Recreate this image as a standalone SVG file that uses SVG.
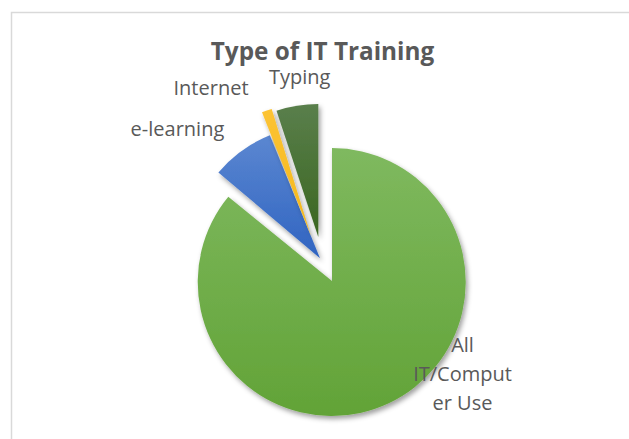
<svg xmlns="http://www.w3.org/2000/svg" width="629" height="439" viewBox="0 0 629 439">
<style>
.lbl{font-family:"Open Sans","Liberation Sans",sans-serif;font-size:20px;fill:#595959}
.title{font-family:"Open Sans","Liberation Sans",sans-serif;font-size:24.3px;font-weight:bold;fill:#595959}
.slice{filter:url(#sh)}
</style>
<defs>
<filter id="sh" x="-20%" y="-20%" width="150%" height="150%">
<feDropShadow dx="2" dy="3" stdDeviation="2.5" flood-color="#000" flood-opacity="0.38"/>
</filter>
<linearGradient id="gGreen" gradientUnits="userSpaceOnUse" x1="0" y1="148" x2="0" y2="416">
<stop offset="0" stop-color="#7fb95f"/><stop offset="1" stop-color="#62a337"/>
</linearGradient>
<linearGradient id="gBlue" gradientUnits="userSpaceOnUse" x1="0" y1="135" x2="0" y2="258">
<stop offset="0" stop-color="#5b87d1"/><stop offset="1" stop-color="#3064c1"/>
</linearGradient>
<linearGradient id="gYellow" gradientUnits="userSpaceOnUse" x1="0" y1="108" x2="0" y2="236">
<stop offset="0" stop-color="#fcc333"/><stop offset="1" stop-color="#f4b81c"/>
</linearGradient>
<linearGradient id="gDark" gradientUnits="userSpaceOnUse" x1="0" y1="104" x2="0" y2="237">
<stop offset="0" stop-color="#5a7f4c"/><stop offset="1" stop-color="#3a6620"/>
</linearGradient>
</defs>
<rect width="629" height="439" fill="#ffffff"/>
<path d="M11.5 439 L11.5 12.5 L629 12.5" fill="none" stroke="#d9d9d9" stroke-width="1.5"/>
<text class="title" x="322.5" y="59.5" text-anchor="middle">Type of IT Training</text>
<g id="slice-all-it">
<path class="slice" d="M332 281 L332 148 A134 134 0 1 1 228.3 196.8 Z" fill="url(#gGreen)"/>
</g>
<g id="slice-elearning">
<path class="slice" d="M320 258.3 L218.4 172.4 A133 133 0 0 1 269.8 135.2 Z" fill="url(#gBlue)"/>
</g>
<g id="slice-internet">
<path class="slice" d="M311 236 L262 112.3 A133 133 0 0 1 271.7 108.9 Z" fill="url(#gYellow)"/>
</g>
<g id="slice-typing">
<path class="slice" d="M318.3 237 L276.5 110.7 A133 133 0 0 1 318.3 104 Z" fill="url(#gDark)"/>
</g>
<g id="connectors"></g>
<g id="labels">
<text class="lbl" x="173.5" y="95">Internet</text>
<text class="lbl" x="269" y="84">Typing</text>
<text class="lbl" x="130.6" y="136">e-learning</text>
<text class="lbl" x="462.5" y="351.7" text-anchor="middle">All</text>
<text class="lbl" x="462.5" y="380.5" text-anchor="middle">IT/Comput</text>
<text class="lbl" x="462.5" y="410" text-anchor="middle">er Use</text>
</g>
</svg>
